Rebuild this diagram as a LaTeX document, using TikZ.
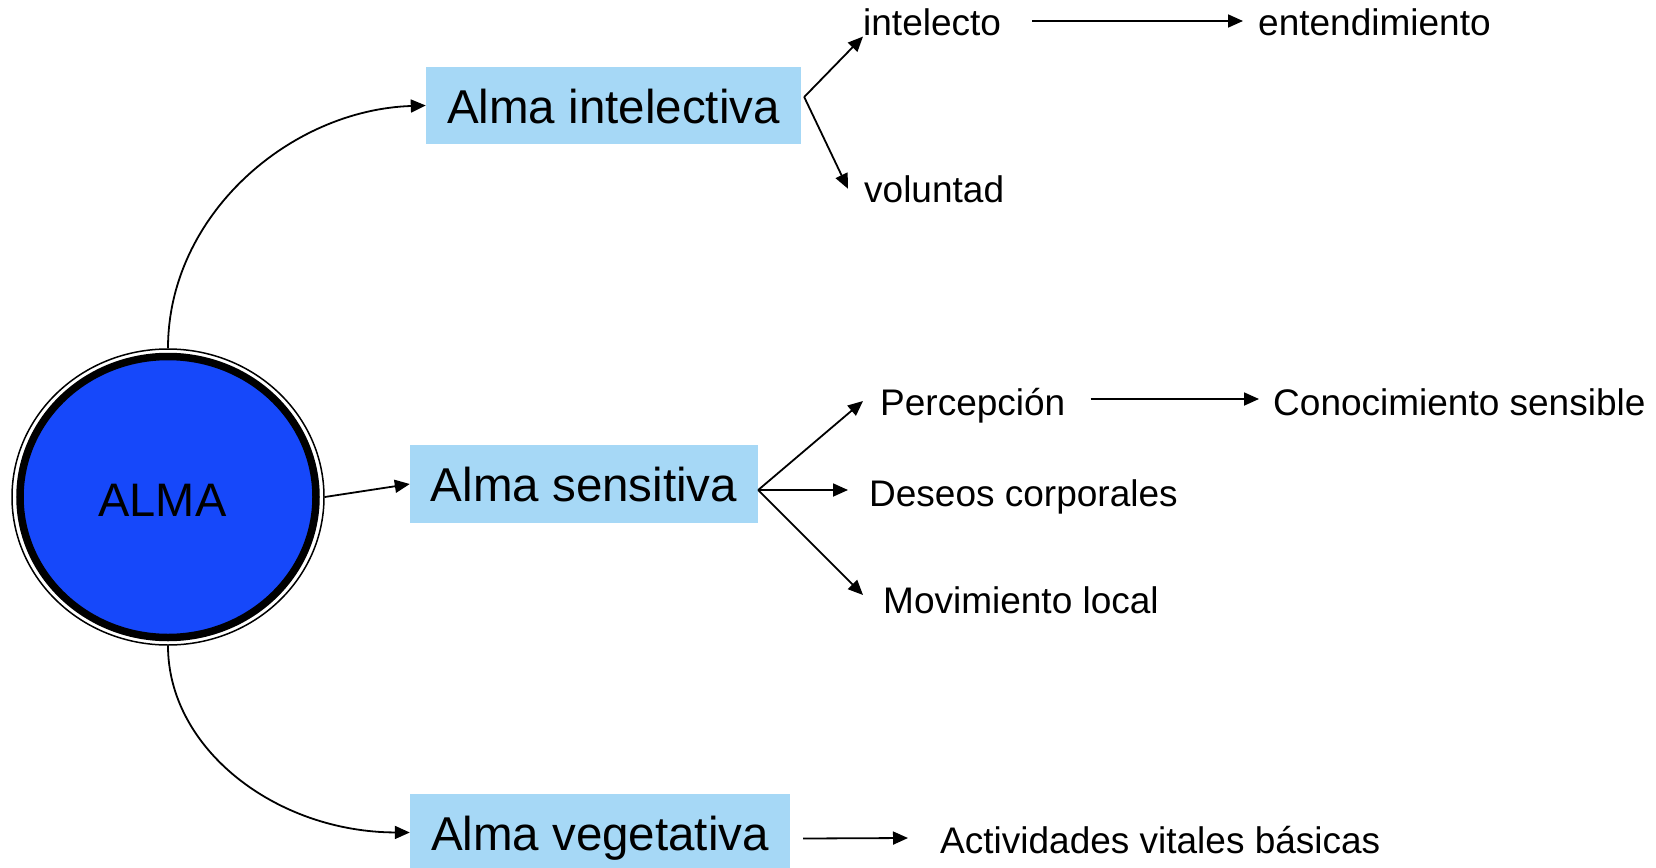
\documentclass[tikz,border=0pt]{standalone}
\usepackage{fontspec}
\setmainfont{Liberation Sans}
\usetikzlibrary{arrows.meta,shapes.geometric}
\definecolor{boxblue}{RGB}{166,216,246}
\definecolor{almablue}{RGB}{22,72,250}
\begin{document}
\begin{tikzpicture}[x=1pt,y=-1pt,
  box/.style={fill=boxblue, inner sep=0pt, text height=35pt, text depth=0pt, font=\fontsize{47.5}{57}\selectfont},
  lbl/.style={inner sep=0pt, font=\fontsize{37}{44}\selectfont, anchor=base west},
  arr/.style={line width=1.8pt, -{Triangle[length=15pt,width=13pt]}}]
\useasboundingbox (0,0) rectangle (1656,867);
\clip (0,0) rectangle (1656,867);
\fill[white] (0,0) rectangle (1656,867);

% ALMA circle
\node[ellipse, draw, line width=1.5pt, minimum width=312pt, minimum height=296pt, inner sep=0pt] (alma) at (168,497) {};
\draw[fill=almablue, line width=7.5pt] (alma.center) ellipse [x radius=148pt, y radius=140.5pt];
\node[font=\fontsize{47}{56}\selectfont, anchor=base, inner sep=0pt] (almatxt) at (162.5,516.7) {ALMA};

% boxes
\node[box, minimum width=375pt, minimum height=77pt] (intel) at (613.5,105.5) {Alma intelectiva};
\node[box, minimum width=348pt, minimum height=78pt] (sensi) at (584,484) {Alma sensitiva};
\node[box, minimum width=380pt, minimum height=77pt] (veg) at (600,832.5) {Alma vegetativa};

% labels
\node[lbl] (intelecto) at (863,36) {intelecto};
\node[lbl] (entend) at (1258,36) {entendimiento};
\node[lbl] (volunt) at (864,202) {voluntad};
\node[lbl] (perc) at (880,415) {Percepción};
\node[lbl] (conoc) at (1273,415) {Conocimiento sensible};
\node[lbl] (deseos) at (869,506) {Deseos corporales};
\node[lbl] (movim) at (883,613) {Movimiento local};
\node[lbl] (activ) at (940,853) {Actividades vitales básicas};

% connectors from ALMA
\draw[arr] (alma.north) .. controls (168,215) and (290,110) .. (intel.west);
\draw[arr] (alma.east) -- (sensi.west);
\draw[arr] (alma.south) .. controls (168,749) and (276,832) .. (veg.west);

% intellective fork
\coordinate (fi) at ([xshift=3pt,yshift=8.5pt]intel.east);
\draw[arr] (fi) -- (intelecto.south west);
\draw[arr] (fi) -- ([xshift=-16pt]volunt.west);
\draw[arr] ([xshift=31pt,yshift=15pt]intelecto.base east) -- ([xshift=-15pt,yshift=15pt]entend.base west);

% sensitive fork
\coordinate (fs) at ([yshift=-6pt]sensi.east);
\draw[arr] (fs) -- ([xshift=-17pt,yshift=14pt]perc.base west);
\draw[arr] (fs) -- ([xshift=-21pt,yshift=16pt]deseos.base west);
\draw[arr] (fs) -- ([xshift=-20pt,yshift=18pt]movim.base west);
\draw[arr] ([xshift=25pt,yshift=16pt]perc.base east) -- ([xshift=-14pt,yshift=16pt]conoc.base west);

% vegetative
\draw[arr] ([xshift=13pt,yshift=-6pt]veg.east) -- ([xshift=-32pt,yshift=15pt]activ.base west);
\end{tikzpicture}
\end{document}
